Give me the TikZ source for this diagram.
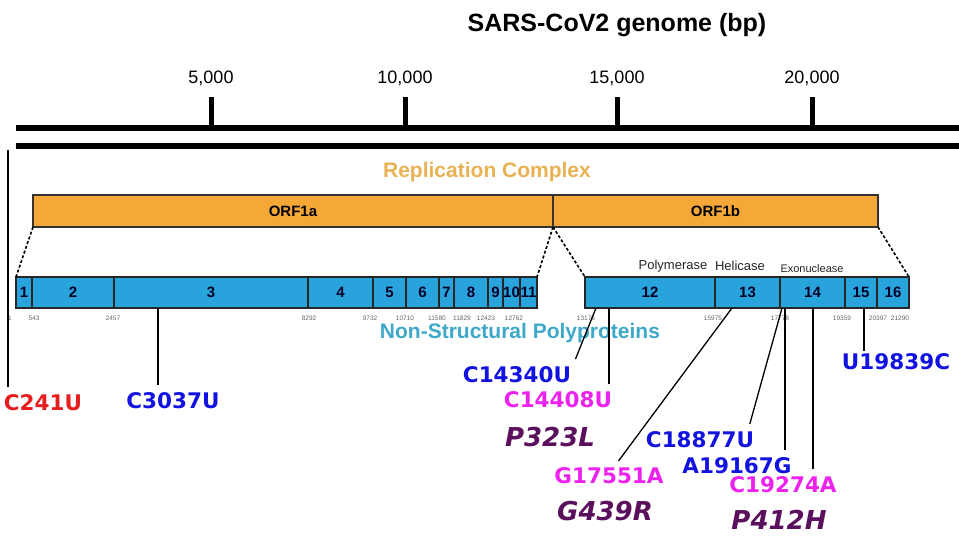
\documentclass[tikz,border=0pt]{standalone}
\usepackage{fontspec}
\setmainfont{Liberation Sans}
\newfontfamily\mutfont{DejaVu Sans}
\usetikzlibrary{positioning}
\definecolor{orfcol}{RGB}{245,168,56}
\definecolor{nspcol}{RGB}{41,163,220}
\definecolor{repltext}{RGB}{232,178,84}
\definecolor{nsptext}{RGB}{62,168,200}
\definecolor{mutred}{RGB}{230,30,30}
\definecolor{mutblue}{RGB}{18,18,225}
\definecolor{mutpink}{RGB}{238,34,238}
\definecolor{aapurple}{RGB}{90,16,92}

\begin{document}
\begin{tikzpicture} [
	x=1pt, y=-1pt,
	orfbox/.style = {
		draw=black!80,
		line width=1.2pt,
		fill=orfcol,
		minimum height=32pt,
		inner sep=0pt, outer sep=0pt,
		font=\bfseries\fontsize{15}{15}\selectfont
	},
	nspbox/.style = {
		draw=black!85,
		line width=1.2pt,
		fill=nspcol,
		minimum height=31pt,
		inner sep=0pt, outer sep=0pt,
		text=black!85!blue,
		font=\bfseries\fontsize{15}{15}\selectfont
	},
	posnum/.style = {text=black!60, inner sep=0pt, font=\fontsize{6.5}{6.5}\selectfont},
	enzyme/.style = {text=black!85, inner sep=0pt, font=\fontsize{13}{13}\selectfont},
	mut/.style = {inner sep=2pt, font=\mutfont\bfseries\fontsize{21.5}{21.5}\selectfont},
	aa/.style = {text=aapurple, inner sep=2pt, font=\mutfont\bfseries\itshape\fontsize{26}{26}\selectfont},
	link/.style = {draw=black, line width=1.3pt, shorten >=6pt},
	zoomline/.style = {draw=black, line width=1.6pt, densely dashed}
]
\useasboundingbox (0,0) rectangle (959,536);

% genome scale
\node (title) [font=\bfseries\fontsize{25}{25}\selectfont] at (617,25) {SARS-CoV2 genome (bp)};
\draw[line width=6pt] (16,128) -- (959,128);
\draw[line width=6pt] (16,146) -- (959,146);
\foreach \x/\t in {211/{5,000}, 405/{10,000}, 617/{15,000}, 812/{20,000}} {
	\draw[line width=5pt] (\x,97) -- (\x,128);
	\node (lab\x) [font=\fontsize{18}{18}\selectfont] at (\x,78) {\t};
}

% ORF1a / ORF1b
\node (repl) [text=repltext, font=\bfseries\fontsize{21}{21}\selectfont] at (487,172) {Replication Complex};
\node (orf1a) [orfbox, minimum width=520pt] at (293,211) {ORF1a};
\node (orf1b) [orfbox, minimum width=325pt, right=0pt of orf1a] {ORF1b};

% non-structural proteins
\foreach \n/\l/\r in {1/16/32, 2/32/114, 3/114/308, 4/308/373, 5/373/406, 6/406/439,
		7/439/454, 8/454/488, 9/488/503, 10/503/520, 11/520/537,
		12/585/715, 13/715/780, 14/780/845, 15/845/877, 16/877/909}
	\node (nsp\n) [nspbox, minimum width={(\r-\l)*1pt}] at ({(\l+\r)/2},292.5) {\n};

\foreach \x/\t in {10/1, 34/543, 113/2457, 309/8292, 370/9732, 405/10710, 437/11580,
		462/11829, 486/12423, 514/12762, 586/13176, 713/15975, 780/17778,
		842/19359, 878/20397, 900/21290}
	\node (p\t) [posnum] at (\x,318) {\t};

\node (pol) [enzyme] at (673,266) {Polymerase};
\node (hel) [enzyme] at (740,266) {Helicase};
\node (exo) [enzyme, font=\fontsize{11}{11}\selectfont] at (812,269) {Exonuclease};
\node (nsps) [text=nsptext, font=\bfseries\fontsize{21}{21}\selectfont] at (520,333) {Non-Structural Polyproteins};

\draw[zoomline] (orf1a.south west) -- (nsp1.north west);
\draw[zoomline] (orf1a.south east) -- (nsp11.north east);
\draw[zoomline] (orf1b.south west) -- (nsp12.north west);
\draw[zoomline] (orf1b.south east) -- (nsp16.north east);

% mutations
\coordinate (s241) at (8,150);
\coordinate (s3037) at (158,308);
\coordinate (s14340) at (596,308);
\coordinate (s14408) at (609,308);
\coordinate (s17551) at (732,308);
\coordinate (s18877) at (782,308);
\coordinate (s19167) at (785,308);
\coordinate (s19274) at (813,308);
\coordinate (s19839) at (864,308);

\node (c241) [mut, text=mutred] at (43,403) {C241U};
\node (c3037) [mut, text=mutblue] at (173,401) {C3037U};
\node (c14340) [mut, text=mutblue] at (517,375) {C14340U};
\node (c14408) [mut, text=mutpink] at (558,400) {C14408U};
\node (p323) [aa, below=15pt of c14408, xshift=-8pt] {P323L};
\node (g17551) [mut, text=mutpink] at (609,476) {G17551A};
\node (g439) [aa, below=13pt of g17551, xshift=-4pt] {G439R};
\node (c18877) [mut, text=mutblue] at (700,440) {C18877U};
\node (a19167) [mut, text=mutblue] at (737,466) {A19167G};
\node (c19274) [mut, text=mutpink] at (783,485) {C19274A};
\node (p412) [aa, below=13pt of c19274, xshift=-4pt] {P412H};
\node (u19839) [mut, text=mutblue] at (896,362) {U19839C};

\draw[link] (s241) -- (c241.north -| s241);
\draw[link] (s3037) -- (c3037.north -| s3037);
\draw[link] (s14340) -- (c14340.north east);
\draw[link] (s14408) -- (c14408.north -| s14408);
\draw[link] (s17551) -- ([xshift=6pt]g17551.north);
\draw[link] (s18877) -- ([xshift=-8pt]c18877.north east);
\draw[link] (s19167) -- (a19167.north -| s19167);
\draw[link] (s19274) -- (c19274.north -| s19274);
\draw[link, shorten >=1pt] (s19839) -- (u19839.north -| s19839);

\end{tikzpicture}
\end{document}
